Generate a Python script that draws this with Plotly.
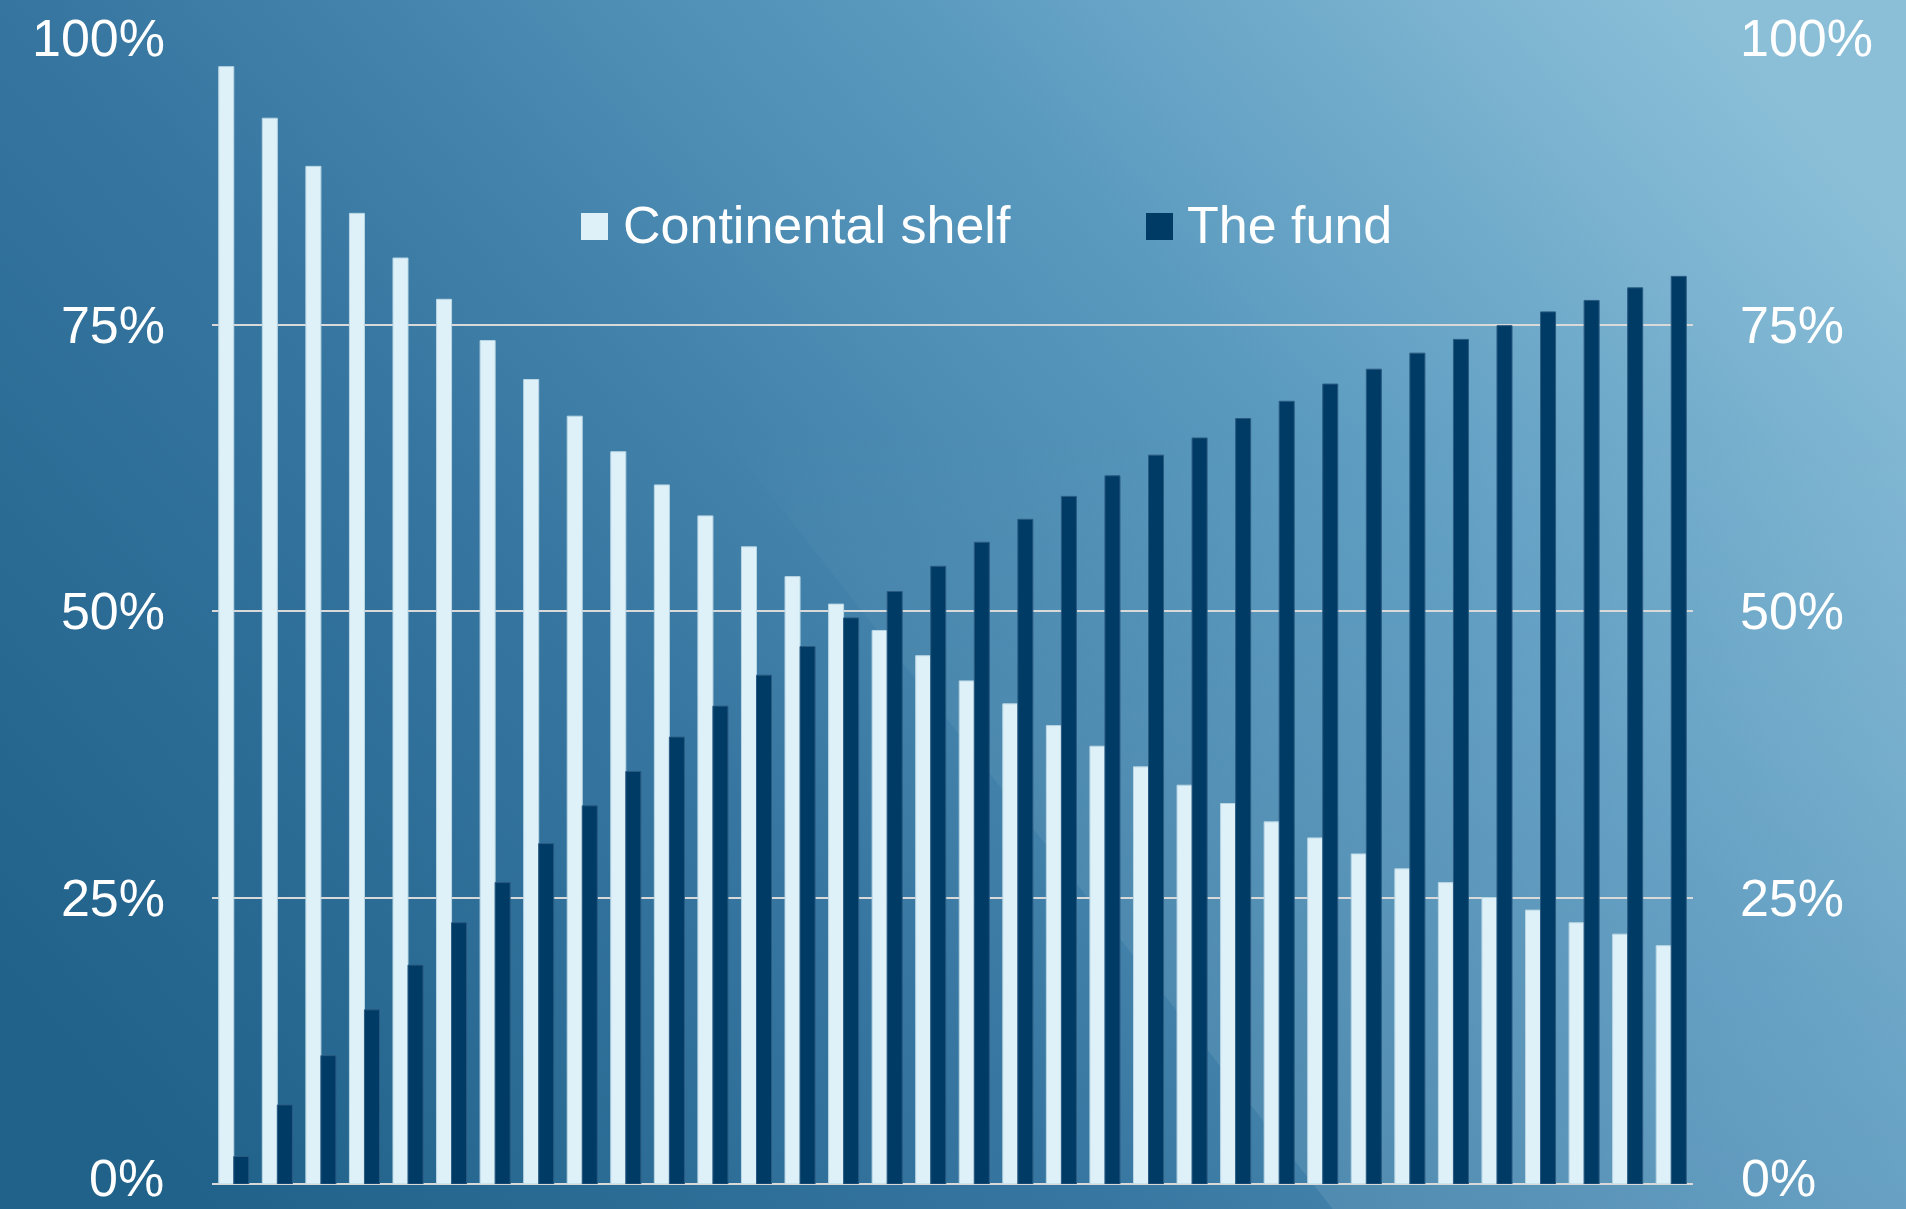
import base64
import plotly.graph_objects as go

# ---------------- data ----------------
categories = [1, 2, 3, 4, 5, 6, 7, 8, 9, 10, 11, 12, 13, 14, 15, 16, 17,
              18, 19, 20, 21, 22, 23, 24, 25, 26, 27, 28, 29, 30, 31, 32, 33, 34]
continental_shelf = [97.5, 93.0, 88.8, 84.7, 80.8, 77.2, 73.6, 70.2, 67.0, 63.9,
                     61.0, 58.3, 55.6, 53.0, 50.6, 48.3, 46.1, 43.9, 41.9, 40.0,
                     38.2, 36.4, 34.8, 33.2, 31.6, 30.2, 28.8, 27.5, 26.3, 25.0,
                     23.9, 22.8, 21.8, 20.8]
the_fund = [2.4, 6.9, 11.2, 15.2, 19.1, 22.8, 26.3, 29.7, 33.0, 36.0,
            39.0, 41.7, 44.4, 46.9, 49.4, 51.7, 53.9, 56.0, 58.0, 60.0,
            61.8, 63.6, 65.1, 66.8, 68.3, 69.8, 71.1, 72.5, 73.7, 74.9,
            76.1, 77.1, 78.2, 79.2]
tick_values = [0, 25, 50, 75, 100]
tick_labels = ["0%", "25%", "50%", "75%", "100%"]
series_names = ["Continental shelf", "The fund"]

# ---------------- layout constants ----------------
W, H = 1906, 1209
ML, MR, MT, MB = 212, 213, 38, 25
PW, PH = W - ML - MR, H - MT - MB
FONT = "Liberation Sans, Arial, Helvetica, sans-serif"
LIGHT = "#def1f8"
DARK = "#003b66"
GRID = "#d9d9d9"


def px_x(x):
    return (x - ML) / PW


def px_y(y):
    return 1 - (y - MT) / PH


# background gradient as inline svg
svg = f'''<svg xmlns="http://www.w3.org/2000/svg" width="{W}" height="{H}" viewBox="0 0 {W} {H}" preserveAspectRatio="none">
<defs>
<linearGradient id="g" x1="0" y1="0.78" x2="1" y2="0.22">
<stop offset="0" stop-color="#21628b"/>
<stop offset="0.35" stop-color="#3676a0"/>
<stop offset="0.7" stop-color="#5c9bc0"/>
<stop offset="1" stop-color="#8bbfd8"/>
</linearGradient>
<linearGradient id="f" x1="0" y1="0" x2="0" y2="1">
<stop offset="0" stop-color="#ffffff" stop-opacity="0"/>
<stop offset="0.35" stop-color="#ffffff" stop-opacity="0.0"/>
<stop offset="0.6" stop-color="#ffffff" stop-opacity="0.05"/>
<stop offset="1" stop-color="#ffffff" stop-opacity="0.09"/>
</linearGradient>
</defs>
<rect x="-10" y="-10" width="{W + 20}" height="{H + 20}" fill="url(#g)"/>
<polygon points="380,0 {W},0 {W},{H} 1335,{H}" fill="url(#f)"/>
</svg>'''
svg_uri = "data:image/svg+xml;base64," + base64.b64encode(svg.encode()).decode()

fig = go.Figure()
fig.add_trace(go.Bar(
    x=categories, y=continental_shelf, name=series_names[0],
    marker=dict(color=LIGHT, line=dict(color="#b9d6e4", width=1)),
    showlegend=False,
))
fig.add_trace(go.Bar(
    x=categories, y=the_fund, name=series_names[1],
    marker=dict(color=DARK, line=dict(color="#2a5b82", width=1)),
    showlegend=False,
))

axis_font = dict(family=FONT, size=52, color="white")

# the 0% labels sit at the very bottom edge; they are placed as annotations
# (bottom-anchored) so they are not clipped, the rest are normal tick labels
fig.update_layout(
    width=W, height=H,
    margin=dict(l=ML, r=MR, t=MT, b=MB, pad=0, autoexpand=False),
    paper_bgcolor="#3c7ca4",
    plot_bgcolor="rgba(0,0,0,0)",
    barmode="group",
    bargap=0.31,
    bargroupgap=0,
    font=dict(family=FONT, color="white"),
    xaxis=dict(range=[0.5, 34.5], showticklabels=False, showgrid=False,
               zeroline=False, showline=False, ticks="", automargin=False),
    yaxis=dict(range=[0, 100], tickvals=tick_values[1:], ticktext=tick_labels[1:],
               showgrid=True, gridcolor=GRID, gridwidth=2,
               zeroline=True, zerolinecolor=GRID, zerolinewidth=2,
               showline=False, ticks="", tickfont=axis_font, automargin=False,
               ticklabeloverflow="allow",
               ticklabelstandoff=46, fixedrange=True),
    yaxis2=dict(range=[0, 100], tickvals=tick_values[1:], ticktext=tick_labels[1:],
                overlaying="y", side="right", showgrid=False, zeroline=False,
                showline=False, ticks="", tickfont=axis_font, automargin=False,
                ticklabeloverflow="allow",
                ticklabelstandoff=46, fixedrange=True),
    images=[dict(source=svg_uri, xref="paper", yref="paper",
                 x=-(ML + 6) / PW, y=1 + (MT + 6) / PH,
                 sizex=(W + 12) / PW, sizey=(H + 12) / PH,
                 xanchor="left", yanchor="top", sizing="stretch",
                 layer="below", opacity=1)],
)

# invisible anchor so the right-hand axis is drawn
fig.add_trace(go.Scatter(x=[categories[0]], y=[tick_values[0]], yaxis="y2",
                         mode="markers", marker=dict(opacity=0),
                         showlegend=False, hoverinfo="skip"))

# manual legend (large swatches)
legend_items = [(581, 608, 621, LIGHT, series_names[0]),
                (1146, 1173, 1185, DARK, series_names[1])]
shapes = []
annotations = []
for x0, x1, tx, col, label in legend_items:
    shapes.append(dict(type="rect", xref="paper", yref="paper",
                       x0=px_x(x0), x1=px_x(x1), y0=px_y(240), y1=px_y(213),
                       fillcolor=col, line=dict(width=0), layer="above"))
    annotations.append(dict(xref="paper", yref="paper", x=px_x(tx), y=px_y(225),
                            xanchor="left", yanchor="middle", showarrow=False,
                            text=label, font=dict(family=FONT, size=52, color="white")))

# 0% labels on both sides
for xpos, anchor in [(px_x(165), "right"), (px_x(1740), "left")]:
    annotations.append(dict(xref="paper", yref="paper", x=xpos, y=px_y(H - 1),
                            xanchor=anchor, yanchor="bottom", showarrow=False,
                            text=tick_labels[0], borderpad=0,
                            font=dict(family=FONT, size=52, color="white")))
fig.update_layout(shapes=shapes, annotations=annotations)

fig.write_html("out.html")
